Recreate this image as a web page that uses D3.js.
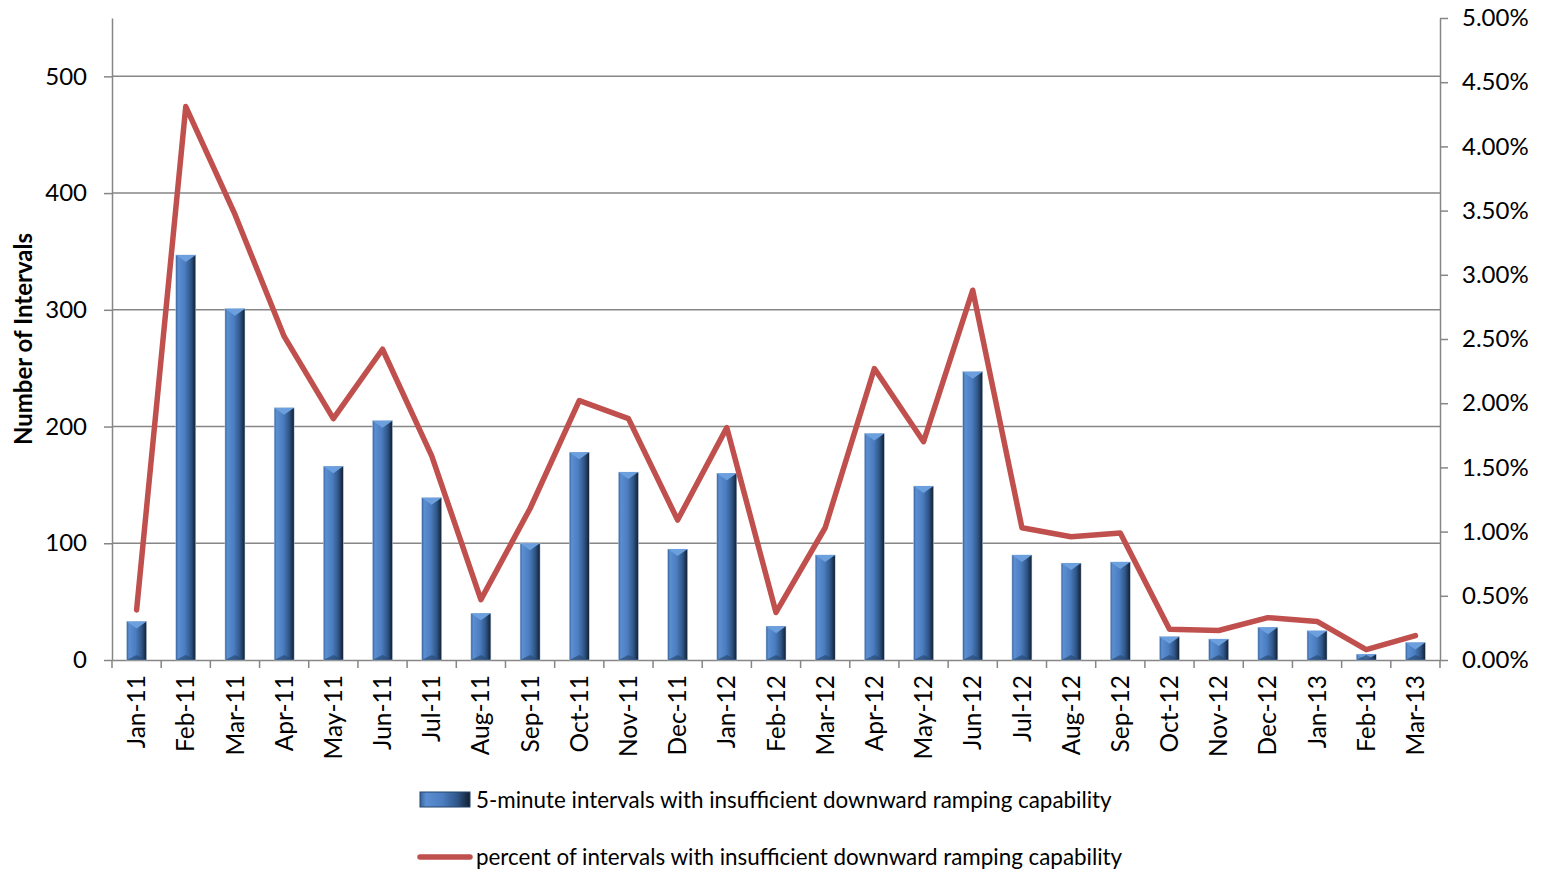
<!DOCTYPE html>
<html>
<head>
<meta charset="utf-8">
<script src="https://cdn.jsdelivr.net/npm/d3@7"></script>
<style>
	body { margin: 0; background: #fff; }
	svg text { font-family: Lato, "Open Sans", sans-serif; fill: #000; }
</style>
</head>
<body>
<div id="chart"></div>
<script>
/**
 * Data
 */
var months = ["Jan-11", "Feb-11", "Mar-11", "Apr-11", "May-11", "Jun-11", "Jul-11", "Aug-11", "Sep-11",
	"Oct-11", "Nov-11", "Dec-11", "Jan-12", "Feb-12", "Mar-12", "Apr-12", "May-12", "Jun-12",
	"Jul-12", "Aug-12", "Sep-12", "Oct-12", "Nov-12", "Dec-12", "Jan-13", "Feb-13", "Mar-13"];
var intervals = [33, 347, 301, 216, 166, 205, 139, 40, 100,
	178, 161, 95, 160, 29, 90, 194, 149, 247,
	90, 83, 84, 20, 18, 28, 25, 5, 15];
var percents = [0.39, 4.31, 3.47, 2.52, 1.88, 2.42, 1.59, 0.47, 1.18,
	2.02, 1.88, 1.09, 1.81, 0.37, 1.03, 2.27, 1.70, 2.88,
	1.03, 0.96, 0.99, 0.24, 0.23, 0.33, 0.30, 0.08, 0.19];
var leftTicks = [0, 100, 200, 300, 400, 500];
var rightTicks = [0, 0.5, 1, 1.5, 2, 2.5, 3, 3.5, 4, 4.5, 5];
var legendLabels = ["5-minute intervals with insufficient downward ramping capability",
	"percent of intervals with insufficient downward ramping capability"];

/**
 * Layout
 */
var W = 1541, H = 870;
var plot = { left: 112, right: 1440, top: 18, bottom: 660 };
var grey = "#868686";
var red = "#c0504d";

var svg = d3.select("#chart").append("svg")
	.attr("width", W).attr("height", H);

// Scales
var x = d3.scaleBand().domain(months).range([plot.left, plot.right]);
var yL = d3.scaleLinear().domain([0, 550]).range([plot.bottom, plot.top]);
var yR = d3.scaleLinear().domain([0, 5]).range([plot.bottom, plot.top]);
var barW = 20;

// Gradients for the bevelled bars
var defs = svg.append("defs");
var grad = defs.append("linearGradient").attr("id", "barGrad")
	.attr("x1", "0%").attr("x2", "100%").attr("y1", "0%").attr("y2", "0%");
[["0%", "#35609a"], ["12%", "#5b8fd2"], ["45%", "#4b7dc0"], ["75%", "#2f5687"], ["100%", "#111e30"]]
	.forEach(function(s) { grad.append("stop").attr("offset", s[0]).attr("stop-color", s[1]); });

// Gridlines
svg.append("g").selectAll("line")
	.data(leftTicks.filter(function(d) { return d > 0; }))
	.join("line")
	.attr("x1", plot.left).attr("x2", plot.right)
	.attr("y1", function(d) { return yL(d); }).attr("y2", function(d) { return yL(d); })
	.attr("stroke", grey).attr("stroke-width", 1.5);

// Axes
var axL = svg.append("g").attr("transform", "translate(" + plot.left + ",0)")
	.call(d3.axisLeft(yL).tickValues(leftTicks).tickSize(8).tickPadding(17).tickSizeOuter(0));
var axR = svg.append("g").attr("transform", "translate(" + plot.right + ",0)")
	.call(d3.axisRight(yR).tickValues(rightTicks).tickSize(8).tickPadding(14).tickSizeOuter(0)
		.tickFormat(function(d) { return d.toFixed(2) + "%"; }));
var axB = svg.append("g").attr("transform", "translate(0," + plot.bottom + ")")
	.call(d3.axisBottom(x).tickSize(0).tickPadding(0));

[axL, axR, axB].forEach(function(ax) {
	ax.select(".domain").attr("stroke", grey).attr("stroke-width", 1.5);
	ax.selectAll(".tick line").attr("stroke", grey).attr("stroke-width", 1.5);
});
axL.selectAll("text").style("font-size", "24px");
axR.selectAll("text").style("font-size", "24px");

// Category boundary ticks on the x axis
svg.append("g").selectAll("line")
	.data(months.concat(["end"]))
	.join("line")
	.attr("x1", function(d, i) { return plot.left + i * x.step(); })
	.attr("x2", function(d, i) { return plot.left + i * x.step(); })
	.attr("y1", plot.bottom).attr("y2", plot.bottom + 8)
	.attr("stroke", grey).attr("stroke-width", 1.5);

axB.selectAll("text")
	.style("font-size", "24.5px")
	.attr("text-anchor", "end")
	.attr("dy", "0.35em")
	.attr("transform", "translate(0,15) rotate(-90)");

// Bars
var bars = svg.append("g").selectAll("g")
	.data(intervals)
	.join("g")
	.attr("transform", function(d, i) {
		return "translate(" + (x(months[i]) + x.bandwidth() / 2 - barW / 2) + "," + yL(d) + ")";
	});
bars.append("rect")
	.attr("width", barW)
	.attr("height", function(d) { return plot.bottom - yL(d); })
	.attr("fill", "url(#barGrad)")
	.attr("stroke", "#c5d4e8").attr("stroke-width", 0.5);
bars.append("path")
	.attr("d", function(d) {
		var h = Math.min(barW / 2 * 0.7, plot.bottom - yL(d));
		return "M0,0L" + barW + ",0L" + (barW / 2) + "," + h + "Z";
	})
	.attr("fill", "#6c9fdd");
bars.append("path")
	.attr("d", function(d) {
		var b = plot.bottom - yL(d);
		var h = Math.min(barW / 2 * 0.5, b);
		return "M0," + b + "L" + barW + "," + b + "L" + (barW / 2) + "," + (b - h) + "Z";
	})
	.attr("fill", "#2a4b75").attr("opacity", 0.7);

// Line
var line = d3.line()
	.x(function(d, i) { return x(months[i]) + x.bandwidth() / 2; })
	.y(function(d) { return yR(d); });
svg.append("path")
	.datum(percents)
	.attr("d", line)
	.attr("fill", "none")
	.attr("stroke", red).attr("stroke-width", 5.5)
	.attr("stroke-linejoin", "round").attr("stroke-linecap", "round");

// Axis title
svg.append("text")
	.attr("transform", "translate(32,339) rotate(-90)")
	.attr("text-anchor", "middle")
	.style("font-size", "24px").style("font-weight", "bold")
	.text("Number of Intervals");

// Legend
var leg = svg.append("g");
leg.append("rect").attr("x", 420).attr("y", 792).attr("width", 50).attr("height", 15)
	.attr("fill", "url(#barGrad)");
leg.append("rect").attr("x", 420).attr("y", 792).attr("width", 50).attr("height", 15)
	.attr("fill", "none").attr("stroke", "#24446c").attr("stroke-width", 1);
leg.append("line").attr("x1", 420).attr("x2", 470).attr("y1", 857).attr("y2", 857)
	.attr("stroke", red).attr("stroke-width", 5.5).attr("stroke-linecap", "round");
leg.selectAll("text")
	.data(legendLabels)
	.join("text")
	.attr("x", 476)
	.attr("y", function(d, i) { return 800 + i * 57; })
	.attr("dy", "0.35em")
	.style("font-size", "22.4px")
	.text(function(d) { return d; });
</script>
</body>
</html>
